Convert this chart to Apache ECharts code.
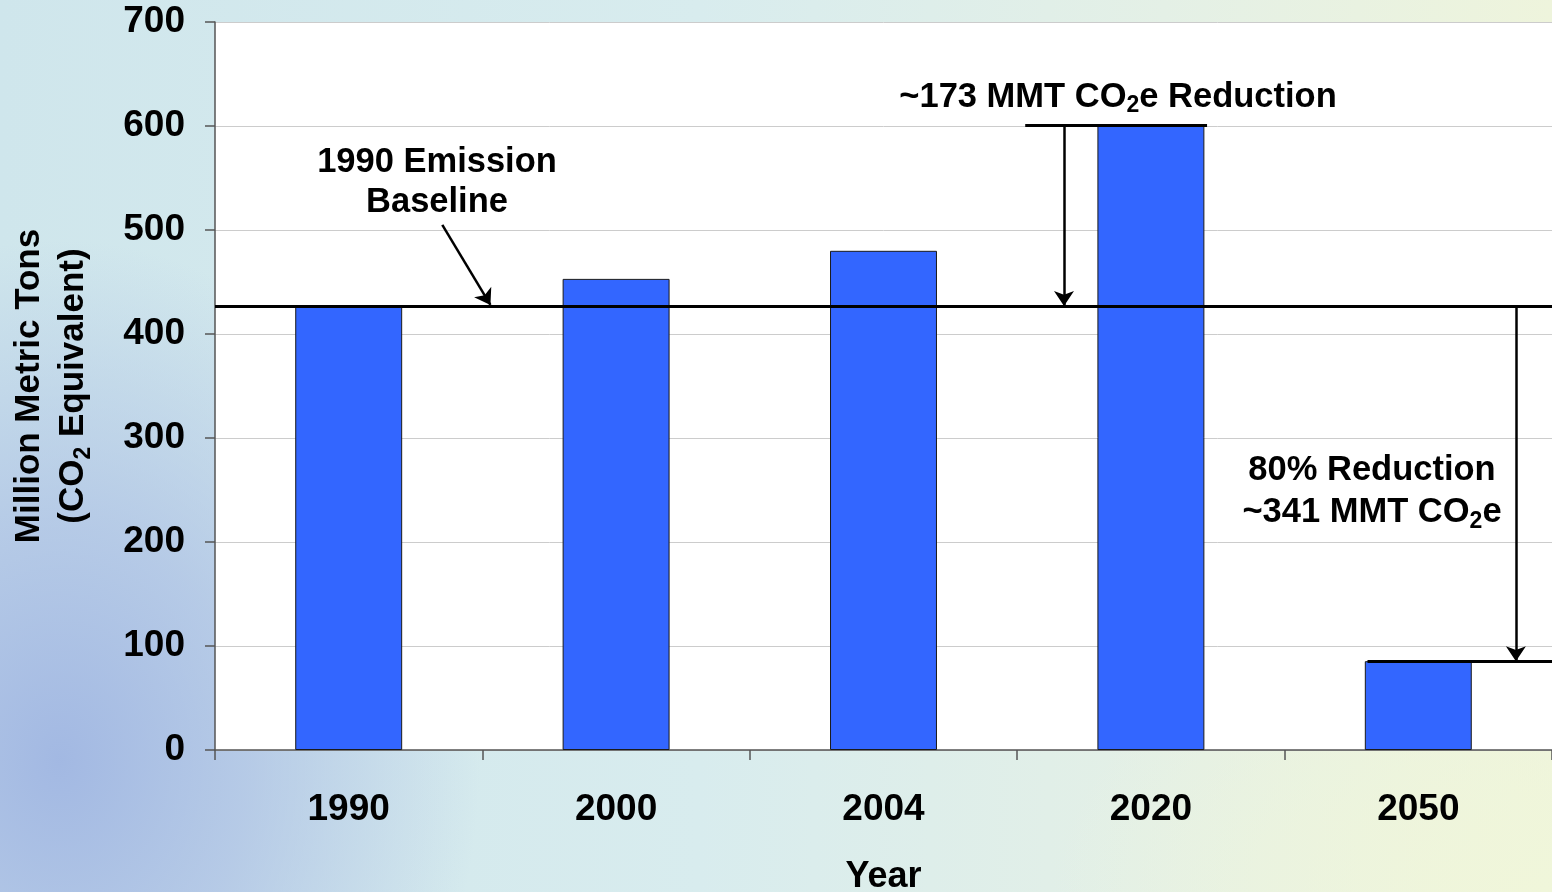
<!DOCTYPE html>
<html>
<head>
<meta charset="utf-8">
<script src="https://cdn.jsdelivr.net/npm/echarts@6/dist/echarts.min.js"></script>
<style>
html,body{margin:0;padding:0;width:1552px;height:892px;overflow:hidden;}
body{
  background:
    radial-gradient(ellipse 420px 520px at 60px 760px, rgba(160,182,226,0.95) 0%, rgba(170,190,228,0.7) 45%, rgba(170,190,228,0) 100%),
    radial-gradient(ellipse 500px 300px at 1552px 892px, rgba(240,246,218,1) 0%, rgba(240,246,218,0) 100%),
    linear-gradient(to right, #cfe6ec 0%, #d8ecee 45%, #e4f0e6 75%, #eef4dc 100%);
}
#chart{width:1552px;height:892px;}
</style>
</head>
<body>
<div id="chart"></div>
<script>
// ---- data ----
const years = ['1990', '2000', '2004', '2020', '2050'];
const emissions = [427, 453, 480, 601, 85.4];
const yTicks = [0, 100, 200, 300, 400, 500, 600, 700];
const baselineValue = 427;
// annotation segments in [categoryIndex, value] units
const reductionCap = [[2.53, 601], [3.21, 601]];
const reductionArrow = [[2.675, 601], [2.675, 427]];
const target2050Cap = [[3.81, 85.4], [4.5, 85.4]];
const target2050Arrow = [[4.365, 427], [4.365, 85.4]];
const baselinePointer = [[0.35, 505], [0.53, 428]];

const FONT = 'Arial, "Liberation Sans", Helvetica, sans-serif';
const chart = echarts.init(document.getElementById('chart'), null, {renderer: 'canvas'});

function richSet(lh) {
  return {
    n: {fontSize: 34.5, fontWeight: 'bold', fontFamily: FONT, color: '#000', lineHeight: lh},
    s: {fontSize: 23, fontWeight: 'bold', fontFamily: FONT, color: '#000', lineHeight: 16, verticalAlign: 'bottom'}
  };
}

const option = {
  animation: false,
  backgroundColor: 'transparent',
  grid: {
    left: 215, right: 0, top: 22, bottom: 142,
    containLabel: false, outerBoundsMode: 'none',
    show: true, backgroundColor: '#ffffff', borderWidth: 0
  },
  xAxis: [{
    type: 'category',
    data: years,
    name: 'Year',
    nameLocation: 'middle',
    nameGap: 109,
    nameTextStyle: {fontSize: 36, fontWeight: 'bold', fontFamily: FONT, color: '#000'},
    axisLine: {lineStyle: {color: '#555', width: 1.5}},
    axisTick: {show: true, length: 10, lineStyle: {color: '#555', width: 1.5}},
    axisLabel: {fontSize: 37, fontWeight: 'bold', fontFamily: FONT, color: '#000', margin: 41},
    splitLine: {show: false}
  }, {
    type: 'value',
    min: -0.5,
    max: 4.5,
    show: false
  }],
  yAxis: [{
    type: 'value',
    min: 0,
    max: 700,
    interval: 100,
    name: 'Million Metric Tons\n{y|(CO}{ys|2}{y| Equivalent)}',
    nameLocation: 'middle',
    nameRotate: 90,
    nameGap: 120,
    nameTextStyle: {
      fontSize: 35, fontWeight: 'bold', fontFamily: FONT, color: '#000', lineHeight: 44,
      rich: {
        y: {fontSize: 35, fontWeight: 'bold', fontFamily: FONT, color: '#000', lineHeight: 44},
        ys: {fontSize: 23, fontWeight: 'bold', fontFamily: FONT, color: '#000', lineHeight: 20, verticalAlign: 'bottom'}
      }
    },
    axisLine: {show: true, onZero: false, lineStyle: {color: '#555', width: 1.5}},
    axisTick: {show: true, length: 10, lineStyle: {color: '#555', width: 1.5}},
    axisLabel: {
      fontSize: 37, fontWeight: 'bold', fontFamily: FONT, color: '#000', margin: 30, padding: [5, 0, 0, 0],
      formatter: function (v) { return yTicks.indexOf(v) >= 0 ? String(v) : ''; }
    },
    splitLine: {show: true, lineStyle: {color: '#cccccc', width: 1}}
  }],
  series: [{
    type: 'bar',
    data: emissions,
    barWidth: '40%',
    itemStyle: {color: '#3366FF', borderColor: '#1a1a1a', borderWidth: 1},
    markLine: {
      silent: true,
      symbol: 'none',
      label: {show: false},
      lineStyle: {color: '#000', width: 3, type: 'solid'},
      data: [{yAxis: baselineValue}]
    },
    z: 2
  }, {
    type: 'lines',
    coordinateSystem: 'cartesian2d',
    xAxisIndex: 1,
    yAxisIndex: 0,
    silent: true,
    z: 5,
    data: [
      {coords: reductionCap, symbol: ['none', 'none'], lineStyle: {width: 3}},
      {coords: target2050Cap, symbol: ['none', 'none'], lineStyle: {width: 3}},
      {coords: reductionArrow, symbol: ['none', 'arrow'], symbolSize: 15, lineStyle: {width: 2.5}},
      {coords: target2050Arrow, symbol: ['none', 'arrow'], symbolSize: 15, lineStyle: {width: 2.5}},
      {coords: baselinePointer, symbol: ['none', 'arrow'], symbolSize: 15, lineStyle: {width: 2.5}}
    ],
    lineStyle: {color: '#000', opacity: 1, curveness: 0},
    symbol: ['none', 'arrow'],
    symbolSize: 15
  }],
  graphic: [{
    type: 'text',
    z: 10,
    style: {
      x: 1118, y: 97, textAlign: 'center', textVerticalAlign: 'middle',
      text: '{n|~173 MMT CO}{s|2}{n|e Reduction}',
      rich: richSet(40)
    }
  }, {
    type: 'text',
    z: 10,
    style: {
      x: 437, y: 182, textAlign: 'center', textVerticalAlign: 'middle',
      text: '{n|1990 Emission}\n{n|Baseline}',
      rich: richSet(40)
    }
  }, {
    type: 'text',
    z: 10,
    style: {
      x: 1372, y: 491, textAlign: 'center', textVerticalAlign: 'middle',
      text: '{n|80% Reduction}\n{n|~341 MMT CO}{s|2}{n|e}',
      rich: richSet(42)
    }
  }]
};
chart.setOption(option);
</script>
</body>
</html>
